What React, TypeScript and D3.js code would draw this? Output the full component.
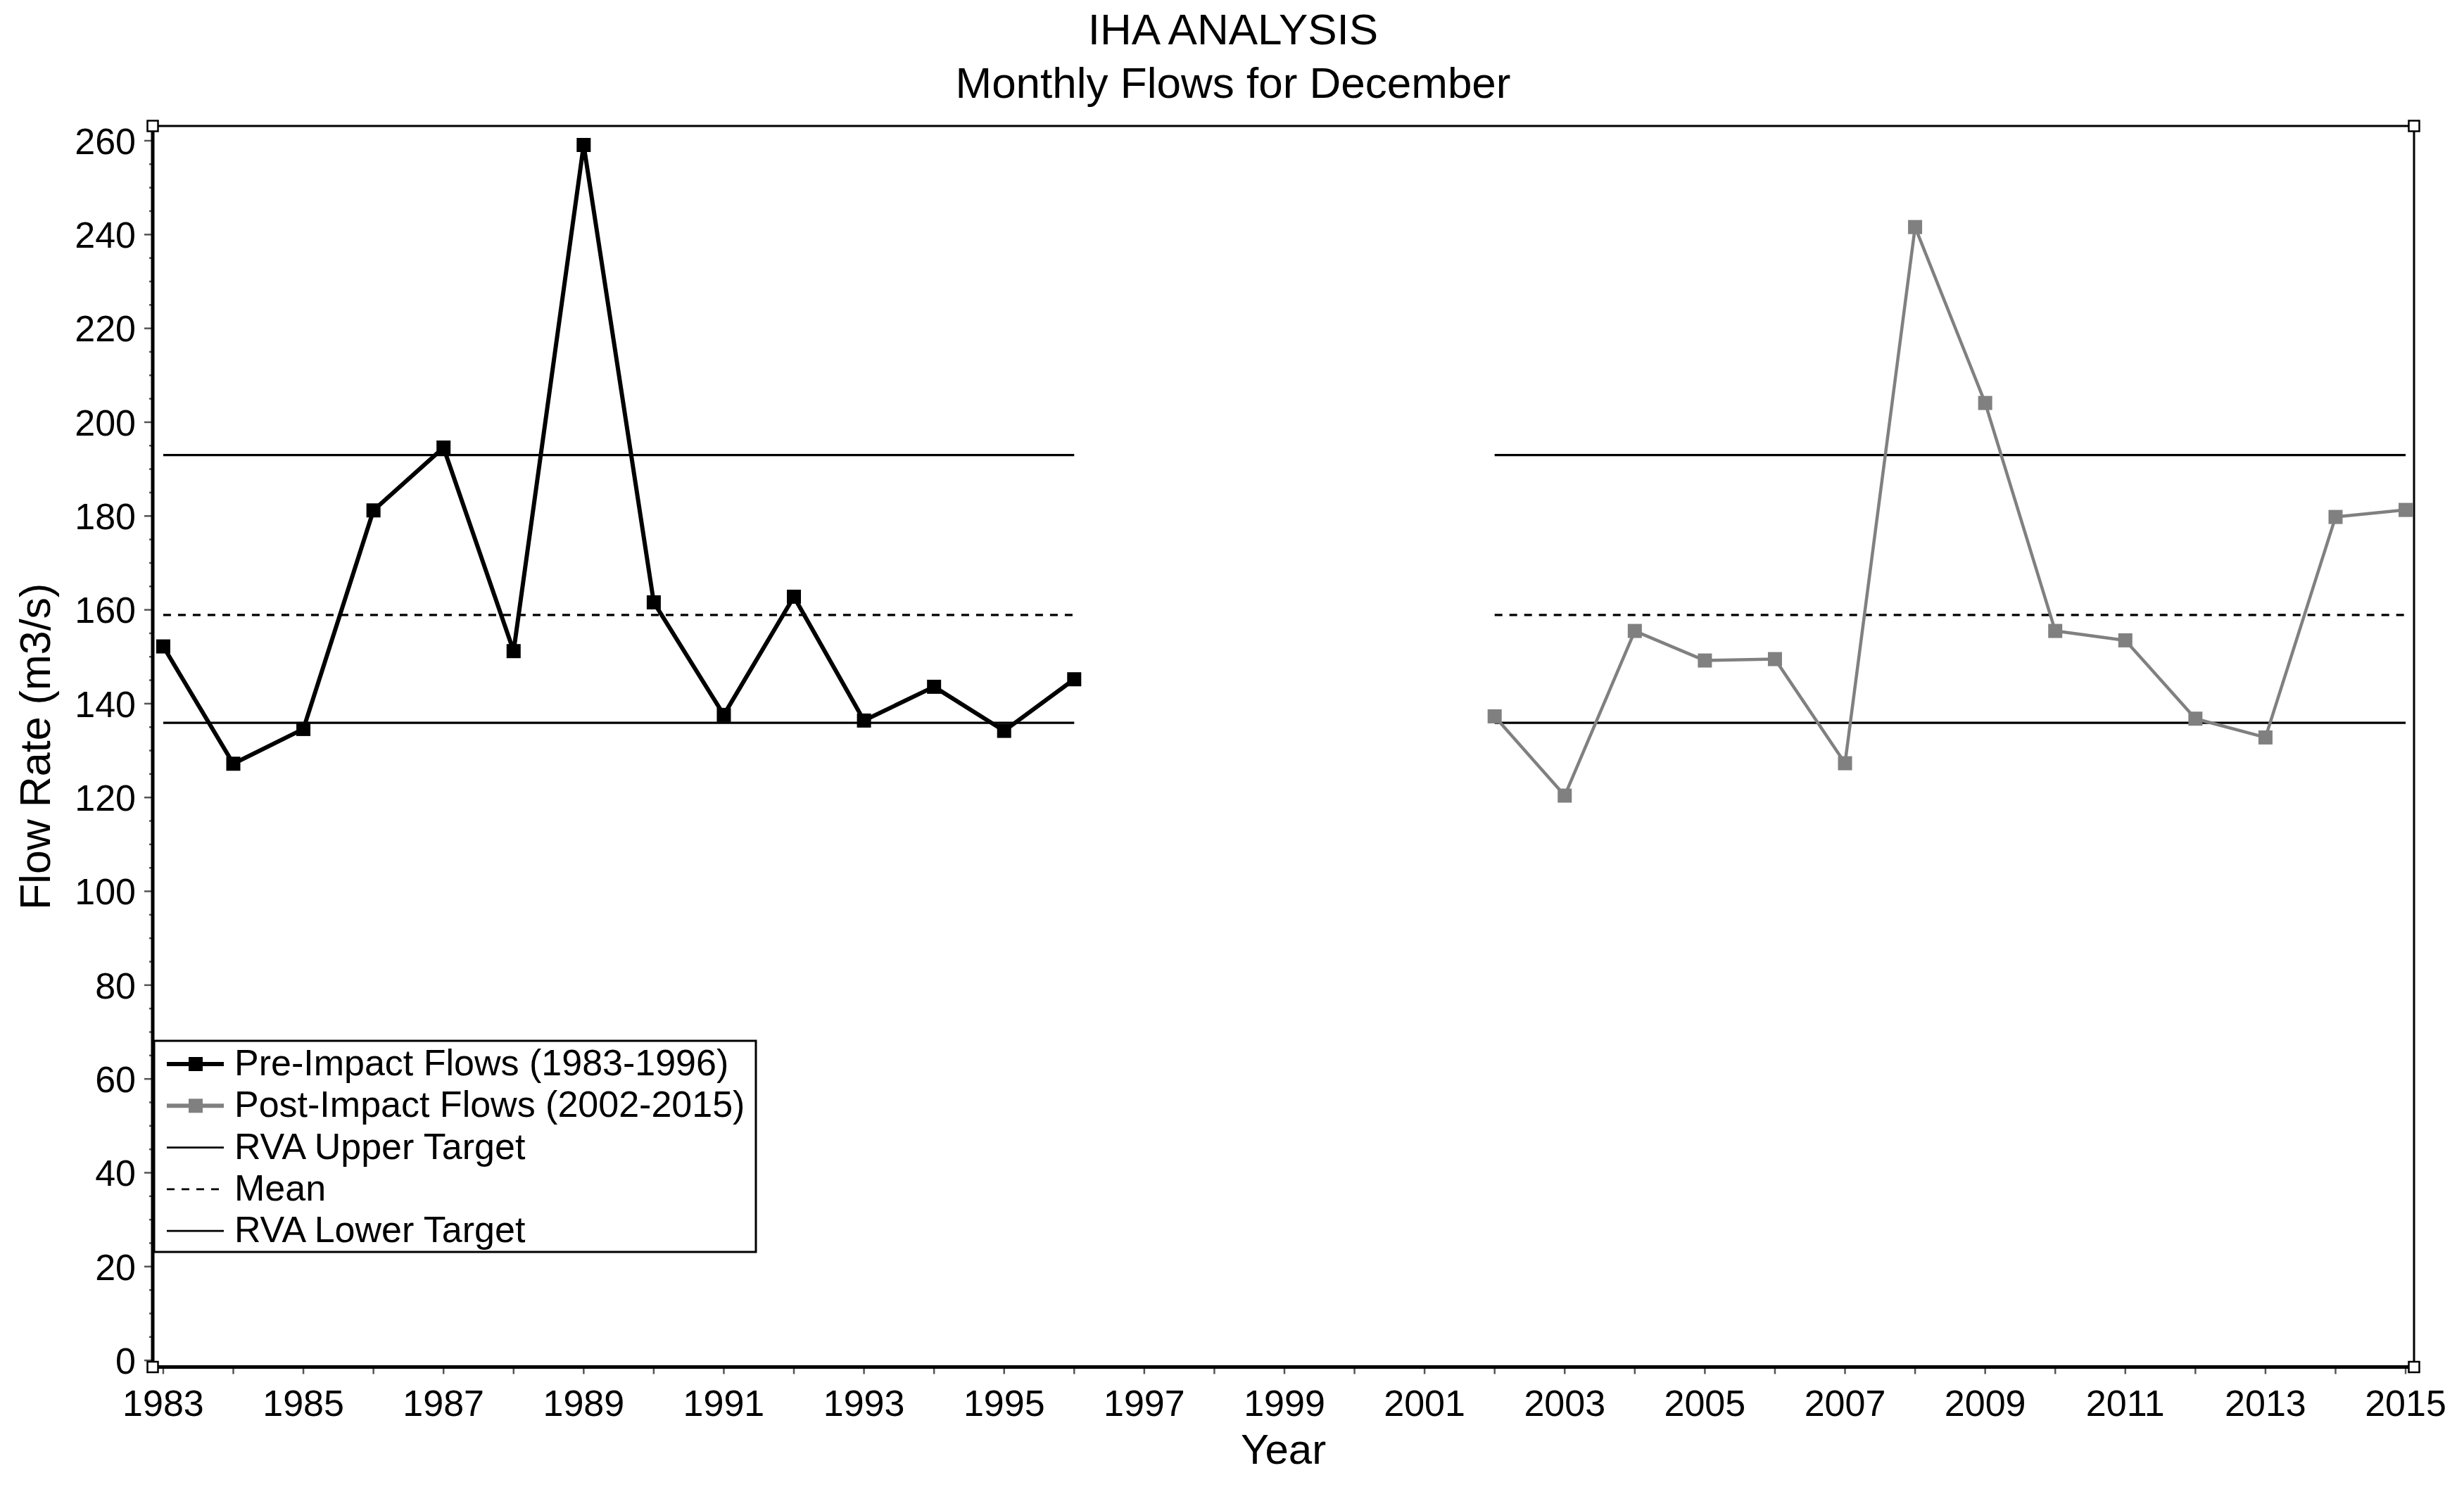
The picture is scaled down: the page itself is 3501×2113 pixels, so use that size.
import React from "react";
import * as d3 from "d3";

// December flows, pre- and post-impact periods
const preYears = [1983, 1984, 1985, 1986, 1987, 1988, 1989, 1990, 1991, 1992, 1993, 1994, 1995, 1996];
const preFlows = [152.2, 127.2, 134.6, 181.2, 194.6, 151.2, 259.1, 161.6, 137.6, 162.8, 136.4, 143.6, 134.2, 145.2];

const postYears = [2002, 2003, 2004, 2005, 2006, 2007, 2008, 2009, 2010, 2011, 2012, 2013, 2014, 2015];
const postFlows = [137.3, 120.4, 155.5, 149.2, 149.5, 127.3, 241.6, 204.1, 155.5, 153.5, 136.8, 132.8, 179.8, 181.3];

// RVA targets and mean, drawn over each period
const rvaUpper = 193;
const flowMean = 158.9;
const rvaLower = 135.9;
const periods: [number, number][] = [
  [1983, 1996],
  [2002, 2015],
];

const yTickValues = [0, 20, 40, 60, 80, 100, 120, 140, 160, 180, 200, 220, 240, 260];
const xTickLabels = [1983, 1985, 1987, 1989, 1991, 1993, 1995, 1997, 1999, 2001, 2003, 2005, 2007, 2009, 2011, 2013, 2015];

const legendLabels = [
  "Pre-Impact Flows (1983-1996)",
  "Post-Impact Flows (2002-2015)",
  "RVA Upper Target",
  "Mean",
  "RVA Lower Target",
];

const W = 3501;
const H = 2113;
const FONT = "'Liberation Sans', Arial, sans-serif";
const PRE_COLOR = "#000";
const POST_COLOR = "#808080";

const frame = { left: 217, right: 3430, top: 179, bottom: 1942.5 };

const App: React.FC = () => {
  const x = d3.scaleLinear().domain([1982.85, 2015.12]).range([frame.left, frame.right]);
  const y = d3.scaleLinear().domain([-1.41, 263.15]).range([frame.bottom, frame.top]);

  const line = d3
    .line<[number, number]>()
    .x((d) => x(d[0]))
    .y((d) => y(d[1]));

  const prePts = preYears.map((yr, i) => [yr, preFlows[i]] as [number, number]);
  const postPts = postYears.map((yr, i) => [yr, postFlows[i]] as [number, number]);

  const minorTicks = d3.range(0, 265, 5).filter((v) => v % 20 !== 0);
  const yearTicks = d3.range(1983, 2016);

  const markerSize = 20;

  const refLines = [
    { value: rvaUpper, dash: undefined as string | undefined },
    { value: flowMean, dash: "11,10" },
    { value: rvaLower, dash: undefined as string | undefined },
  ];

  // legend layout
  const lg = { x: 219, y: 1479, w: 855, h: 300 };
  const rowBase = (i: number) => 1528 + i * 59.3;

  const corners = [
    [frame.left, frame.top],
    [frame.right, frame.top],
    [frame.left, frame.bottom],
    [frame.right, frame.bottom],
  ];

  return (
    <svg
      width={W}
      height={H}
      viewBox={`0 0 ${W} ${H}`}
      style={{ position: "absolute", left: 0, top: 0, background: "#fff" }}
      fontFamily={FONT}
    >
      <rect x={0} y={0} width={W} height={H} fill="#fff" />

      {/* Title */}
      <text x={1752} y={63} textAnchor="middle" fontSize={62}>
        IHA ANALYSIS
      </text>
      <text x={1752} y={139} textAnchor="middle" fontSize={62}>
        Monthly Flows for December
      </text>

      {/* Reference lines */}
      {periods.map(([a, b], pi) =>
        refLines.map((r, ri) => (
          <line
            key={`ref-${pi}-${ri}`}
            x1={x(a)}
            x2={x(b)}
            y1={y(r.value)}
            y2={y(r.value)}
            stroke="#000"
            strokeWidth={3.2}
            strokeDasharray={r.dash}
          />
        ))
      )}

      {/* Post-impact series */}
      <path d={line(postPts) || ""} fill="none" stroke={POST_COLOR} strokeWidth={4.5} strokeLinejoin="round" />
      {postPts.map((p, i) => (
        <rect
          key={`post-${i}`}
          x={x(p[0]) - markerSize / 2}
          y={y(p[1]) - markerSize / 2}
          width={markerSize}
          height={markerSize}
          fill={POST_COLOR}
        />
      ))}

      {/* Pre-impact series */}
      <path d={line(prePts) || ""} fill="none" stroke={PRE_COLOR} strokeWidth={6} strokeLinejoin="round" />
      {prePts.map((p, i) => (
        <rect
          key={`pre-${i}`}
          x={x(p[0]) - markerSize / 2}
          y={y(p[1]) - markerSize / 2}
          width={markerSize}
          height={markerSize}
          fill={PRE_COLOR}
        />
      ))}

      {/* Y axis ticks & labels */}
      {minorTicks.map((v) => (
        <line key={`ym-${v}`} x1={frame.left - 5} x2={frame.left} y1={y(v)} y2={y(v)} stroke="#555" strokeWidth={2.5} />
      ))}
      {yTickValues.map((v) => (
        <g key={`y-${v}`}>
          <line x1={frame.left - 12} x2={frame.left} y1={y(v)} y2={y(v)} stroke="#555" strokeWidth={2.5} />
          <text x={193} y={y(v)} dy="0.36em" textAnchor="end" fontSize={52}>
            {v}
          </text>
        </g>
      ))}

      {/* X axis ticks & labels */}
      {yearTicks.map((yr) => (
        <line
          key={`xt-${yr}`}
          x1={x(yr)}
          x2={x(yr)}
          y1={frame.bottom}
          y2={frame.bottom + 10}
          stroke="#555"
          strokeWidth={2.5}
        />
      ))}
      {xTickLabels.map((yr) => (
        <text key={`xl-${yr}`} x={x(yr)} y={2012} textAnchor="middle" fontSize={52}>
          {yr}
        </text>
      ))}

      {/* Axis titles */}
      <text x={(frame.left + frame.right) / 2} y={2080} textAnchor="middle" fontSize={60}>
        Year
      </text>
      <text
        transform={`translate(71,${(frame.top + frame.bottom) / 2}) rotate(-90)`}
        textAnchor="middle"
        fontSize={61}
      >
        Flow Rate (m3/s)
      </text>

      {/* Frame */}
      <line x1={frame.left} x2={frame.right} y1={frame.top} y2={frame.top} stroke="#000" strokeWidth={3} />
      <line x1={frame.right} x2={frame.right} y1={frame.top} y2={frame.bottom} stroke="#000" strokeWidth={3} />
      <line x1={frame.left} x2={frame.left} y1={frame.top} y2={frame.bottom + 2.5} stroke="#000" strokeWidth={5} />
      <line x1={frame.left} x2={frame.right} y1={frame.bottom} y2={frame.bottom} stroke="#000" strokeWidth={5} />

      {/* Legend */}
      <rect x={lg.x} y={lg.y} width={lg.w} height={lg.h} fill="#fff" stroke="#000" strokeWidth={3} />
      {legendLabels.map((label, i) => {
        const by = rowBase(i);
        const ly = by - 16;
        return (
          <g key={`lg-${i}`}>
            {i === 0 && (
              <>
                <line x1={237} x2={318} y1={ly} y2={ly} stroke={PRE_COLOR} strokeWidth={6} />
                <rect x={278 - markerSize / 2} y={ly - markerSize / 2} width={markerSize} height={markerSize} fill={PRE_COLOR} />
              </>
            )}
            {i === 1 && (
              <>
                <line x1={237} x2={318} y1={ly} y2={ly} stroke={POST_COLOR} strokeWidth={6} />
                <rect x={278 - markerSize / 2} y={ly - markerSize / 2} width={markerSize} height={markerSize} fill={POST_COLOR} />
              </>
            )}
            {i >= 2 && (
              <line
                x1={237}
                x2={318}
                y1={ly}
                y2={ly}
                stroke="#000"
                strokeWidth={2.8}
                strokeDasharray={i === 3 ? "11,10" : undefined}
              />
            )}
            <text x={333} y={by} fontSize={52}>
              {label}
            </text>
          </g>
        );
      })}

      {/* Corner handles */}
      {corners.map(([cx, cy], i) => (
        <rect key={`c-${i}`} x={cx - 7.5} y={cy - 7.5} width={15} height={15} fill="#fff" stroke="#000" strokeWidth={2.5} />
      ))}
    </svg>
  );
};

export default App;
